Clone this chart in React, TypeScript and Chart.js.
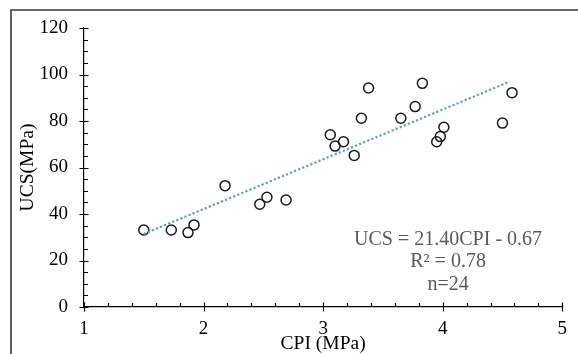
import React, { useEffect, useRef } from 'react';
import { Chart, registerables } from 'chart.js';

Chart.register(...registerables);

// Measured data (CPI in MPa, UCS in MPa)
const cpi = [1.50, 1.73, 1.87, 1.92, 2.18, 2.47, 2.53, 2.69, 3.06, 3.10, 3.17, 3.26, 3.32, 3.38, 3.65, 3.77, 3.83, 3.95, 3.98, 4.01, 4.50, 4.58];
const ucs = [33.1, 33.1, 32.0, 35.3, 52.2, 44.2, 47.2, 46.0, 74.1, 69.2, 71.1, 65.2, 81.2, 94.2, 81.2, 86.2, 96.2, 71.1, 73.3, 77.3, 79.1, 92.2];

// Linear trendline as printed on the chart
const slope = 21.40;
const intercept = -0.67;
const trendX = [1.5, 4.56];

const annotationLines = ['UCS = 21.40CPI - 0.67', 'R² = 0.78', 'n=24'];
const annotationAt = { x: 4.045, y: 29.0 };

const xMin = 1, xMax = 5, xStep = 1, xMinor = 0.2;
const yMin = 0, yMax = 120, yStep = 20, yMinor = 5;

const FONT = '"Liberation Serif", "Times New Roman", serif';

const customPlugin = {
  id: 'customDecor',
  beforeDraw(chart: any) {
    const ctx = chart.ctx;
    ctx.save();
    ctx.strokeStyle = '#3a3a3a';
    ctx.lineWidth = 1.6;
    ctx.beginPath();
    ctx.moveTo(11, 400);
    ctx.lineTo(11, 10);
    ctx.lineTo(700, 10);
    ctx.stroke();
    ctx.restore();
  },
  afterDraw(chart: any) {
    const { ctx } = chart;
    const xs = chart.scales.x;
    const ys = chart.scales.y;
    ctx.save();
    ctx.strokeStyle = '#000';
    ctx.lineWidth = 1.2;
    const yAxisPx = ys.getPixelForValue(yMin);
    const xAxisPx = xs.getPixelForValue(xMin);
    const nx = Math.round((xMax - xMin) / xMinor);
    const perMajorX = Math.round(xStep / xMinor);
    ctx.beginPath();
    for (let i = 0; i <= nx; i++) {
      const v = xMin + i * xMinor;
      const px = Math.round(xs.getPixelForValue(v)) + 0.5;
      if (i % perMajorX === 0) {
        ctx.moveTo(px, yAxisPx - 4.5);
        ctx.lineTo(px, yAxisPx + 4.5);
      } else {
        ctx.moveTo(px, yAxisPx);
        ctx.lineTo(px, yAxisPx - 4);
      }
    }
    const ny = Math.round((yMax - yMin) / yMinor);
    const perMajorY = Math.round(yStep / yMinor);
    for (let i = 0; i <= ny; i++) {
      const v = yMin + i * yMinor;
      const py = Math.round(ys.getPixelForValue(v)) + 0.5;
      if (i % perMajorY === 0) {
        ctx.moveTo(xAxisPx - 4.5, py);
        ctx.lineTo(xAxisPx + 4.5, py);
      } else {
        ctx.moveTo(xAxisPx, py);
        ctx.lineTo(xAxisPx + 4, py);
      }
    }
    ctx.stroke();

    ctx.fillStyle = '#595959';
    ctx.font = `20px ${FONT}`;
    ctx.textAlign = 'center';
    ctx.textBaseline = 'middle';
    const ax = xs.getPixelForValue(annotationAt.x);
    const ay = ys.getPixelForValue(annotationAt.y);
    annotationLines.forEach((t, i) => {
      ctx.fillText(t, ax, ay + i * 22.5);
    });
    ctx.restore();
  },
};

export default function App() {
  const canvasRef = useRef<HTMLCanvasElement | null>(null);

  useEffect(() => {
    const canvas = canvasRef.current;
    if (!canvas) return;
    const points = cpi.map((x, i) => ({ x, y: ucs[i] }));
    const trend = trendX.map((x) => ({ x, y: slope * x + intercept }));

    const chart = new Chart(canvas, {
      type: 'scatter',
      data: {
        datasets: [
          {
            type: 'line',
            label: 'Trend',
            data: trend,
            borderColor: '#5B9BD5',
            borderWidth: 2.2,
            borderDash: [2.2, 2.2],
            pointRadius: 0,
            fill: false,
          } as any,
          {
            label: 'UCS',
            data: points,
            pointStyle: 'circle',
            pointRadius: 5,
            pointBorderWidth: 1.5,
            pointBorderColor: '#1a1a1a',
            pointBackgroundColor: 'rgba(255,255,255,0)',
            showLine: false,
          },
        ],
      },
      options: {
        responsive: false,
        animation: false,
        events: [],
        layout: { padding: { left: 18, top: 28, right: 12, bottom: 0 } },
        plugins: {
          legend: { display: false },
          tooltip: { enabled: false },
        },
        scales: {
          x: {
            type: 'linear',
            min: xMin,
            max: xMax,
            ticks: {
              stepSize: xStep,
              color: '#000',
              font: { family: FONT, size: 19 },
              padding: 11,
            },
            grid: { display: false, drawTicks: false },
            border: { display: true, color: '#000', width: 1.2 },
            title: {
              display: true,
              text: 'CPI (MPa)',
              color: '#000',
              font: { family: FONT, size: 19.5, lineHeight: 1 },
              padding: 0,
            },
            afterFit: (s: any) => {
              s.height = 47;
            },
          },
          y: {
            type: 'linear',
            min: yMin,
            max: yMax,
            ticks: {
              stepSize: yStep,
              color: '#000',
              font: { family: FONT, size: 19 },
              padding: 16,
            },
            grid: { display: false, drawTicks: false },
            border: { display: true, color: '#000', width: 1.2 },
            title: {
              display: true,
              text: 'UCS(MPa)',
              color: '#000',
              font: { family: FONT, size: 19.5, lineHeight: 1 },
              padding: 0,
            },
            afterFit: (s: any) => {
              s.width = 66;
            },
          },
        },
      },
      plugins: [customPlugin],
    });
    return () => chart.destroy();
  }, []);

  return (
    <div style={{ position: 'fixed', left: 0, top: 0, width: 578, height: 354, background: '#fff' }}>
      <canvas ref={canvasRef} width={578} height={354} style={{ display: 'block' }} />
    </div>
  );
}
